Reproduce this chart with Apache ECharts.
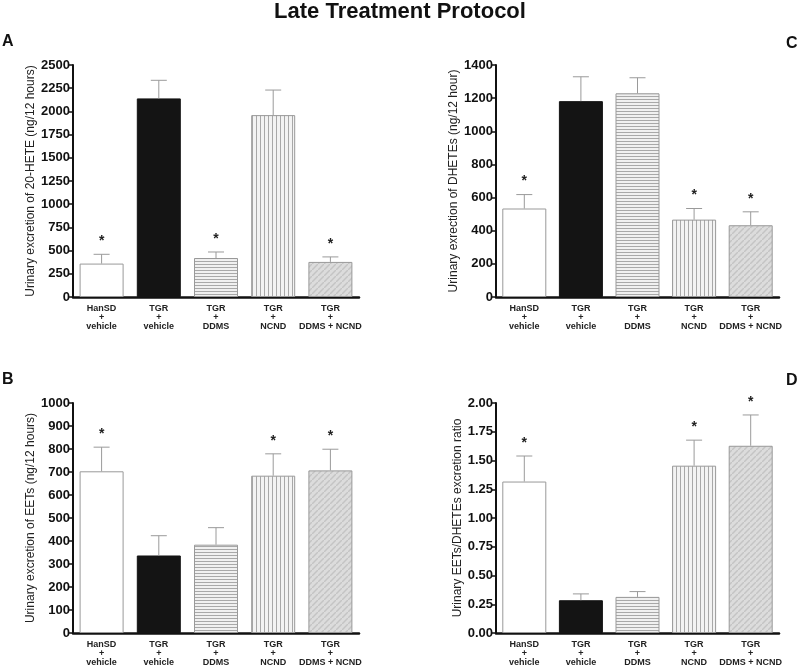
<!DOCTYPE html>
<html>
<head>
<meta charset="utf-8">
<script src="https://cdn.jsdelivr.net/npm/echarts@6/dist/echarts.min.js"></script>
<style>
  html, body { margin: 0; padding: 0; background: #fff; }
  #chart { width: 800px; height: 667px; }
</style>
</head>
<body>
<div id="chart"></div>
<script>
// groups on the x axis (same for all four panels)
const groups = ['HanSD\n+\nvehicle', 'TGR\n+\nvehicle', 'TGR\n+\nDDMS', 'TGR\n+\nNCND', 'TGR\n+\nDDMS + NCND'];

// A: 20-HETE (ng/12 hours)
const heteMean = [360, 2140, 420, 1960, 378];
const heteSem = [100, 195, 65, 270, 54];
const heteSig = [1, 0, 1, 0, 1];

// C: DHETEs (ng/12 hour)
const dheteMean = [534, 1182, 1229, 467, 433];
const dheteSem = [84, 147, 94, 67, 81];
const dheteSig = [1, 0, 0, 1, 1];

// B: EETs (ng/12 hours)
const eetMean = [703, 337, 384, 684, 707];
const eetSem = [105, 86, 74, 95, 92];
const eetSig = [1, 0, 0, 1, 1];

// D: EETs/DHETEs ratio
const ratioMean = [1.317, 0.285, 0.314, 1.455, 1.628];
const ratioSem = [0.222, 0.055, 0.046, 0.222, 0.268];
const ratioSig = [1, 0, 0, 1, 1];

const FONT = '"Liberation Sans", Arial, sans-serif';

// fill patterns for the five groups
function makePattern(w, h, bg, draw) {
    const c = document.createElement('canvas');
    c.width = w; c.height = h;
    const ctx = c.getContext('2d');
    ctx.fillStyle = bg;
    ctx.fillRect(0, 0, w, h);
    draw(ctx);
    return { image: c, repeat: 'repeat' };
}
const fills = [
    '#ffffff',
    '#141414',
    makePattern(1, 3, '#f0f0f0', ctx => { ctx.fillStyle = '#a8a8a8'; ctx.fillRect(0, 0, 1, 1); }),
    makePattern(4, 1, '#f3f3f3', ctx => { ctx.fillStyle = '#a8a8a8'; ctx.fillRect(0, 0, 1, 1); }),
    makePattern(6, 6, '#dcdcdc', ctx => {
        ctx.strokeStyle = '#c4c4c4'; ctx.lineWidth = 1.5;
        ctx.beginPath(); ctx.moveTo(0, 6); ctx.lineTo(6, 0); ctx.stroke();
    })
];

var myChart = echarts.init(document.getElementById('chart'));

function barData(values) {
    return values.map((v, i) => ({
        value: v,
        itemStyle: { color: fills[i], borderColor: i === 1 ? '#141414' : '#999', borderWidth: 1 }
    }));
}
function errData(values, sem, sig) {
    return values.map((v, i) => [i, v, v + sem[i], sig[i]]);
}
function renderErr(params, api) {
    const base = api.coord([api.value(0), api.value(1)]);
    const top = api.coord([api.value(0), api.value(2)]);
    const children = [
        { type: 'line', shape: { x1: base[0], y1: base[1], x2: top[0], y2: top[1] }, style: { stroke: '#9a9a9a', lineWidth: 1 } },
        { type: 'line', shape: { x1: top[0] - 8, y1: top[1], x2: top[0] + 8, y2: top[1] }, style: { stroke: '#9a9a9a', lineWidth: 1 } }
    ];
    if (api.value(3)) {
        children.push({
            type: 'text',
            style: { text: '*', x: top[0], y: top[1] - 13, align: 'center', verticalAlign: 'middle', font: 'bold 14px ' + FONT, fill: '#222' }
        });
    }
    return { type: 'group', children: children };
}

const grids = [
    { left: 73, top: 65, width: 286, height: 232 },
    { left: 496, top: 65, width: 283, height: 232 },
    { left: 73, top: 403, width: 286, height: 232 },
    { left: 496, top: 403, width: 283, height: 231 }
];
const panels = [
    { name: 'Urinary excretion of 20-HETE (ng/12 hours)', max: 2500, interval: 250, mean: heteMean, sem: heteSem, sig: heteSig, dec: 0 },
    { name: 'Urinary exrection of DHETEs (ng/12 hour)', max: 1400, interval: 200, mean: dheteMean, sem: dheteSem, sig: dheteSig, dec: 0 },
    { name: 'Urinary excretion of EETs (ng/12 hours)', max: 1000, interval: 100, mean: eetMean, sem: eetSem, sig: eetSig, dec: 0 },
    { name: 'Urinary EETs/DHETEs excretion ratio', max: 2, interval: 0.25, mean: ratioMean, sem: ratioSem, sig: ratioSig, dec: 2 }
];

const letterStyle = { fontFamily: FONT, fontSize: 16, fontWeight: 'bold', color: '#111' };
const option = {
    animation: false,
    title: [
        { text: 'Late Treatment Protocol', left: 'center', top: 0, padding: [1, 0, 0, 0], textStyle: { fontFamily: FONT, fontSize: 22, fontWeight: 'bold', color: '#111' } },
        { text: 'A', left: 2, top: 34, padding: 0, textStyle: letterStyle },
        { text: 'C', left: 786, top: 36, padding: 0, textStyle: letterStyle },
        { text: 'B', left: 2, top: 372, padding: 0, textStyle: letterStyle },
        { text: 'D', left: 786, top: 373, padding: 0, textStyle: letterStyle }
    ],
    grid: grids,
    xAxis: grids.map((g, i) => ({
        type: 'category',
        gridIndex: i,
        data: groups,
        axisLine: { lineStyle: { color: '#111', width: 2.5 } },
        axisTick: { show: false },
        axisLabel: { interval: 0, fontFamily: FONT, fontSize: 9, fontWeight: 'bold', color: '#222', lineHeight: 9, margin: 7 }
    })),
    yAxis: panels.map((p, i) => ({
        type: 'value',
        gridIndex: i,
        min: 0,
        max: p.max,
        interval: p.interval,
        name: p.name,
        nameLocation: 'middle',
        nameGap: 31,
        nameTextStyle: { fontFamily: FONT, fontSize: 12, color: '#222' },
        splitLine: { show: false },
        axisLine: { show: true, lineStyle: { color: '#111', width: 2 } },
        axisTick: { show: true, length: 4, lineStyle: { color: '#111', width: 1.5 } },
        axisLabel: {
            fontFamily: FONT, fontSize: 13, fontWeight: 'bold', color: '#111', margin: 3,
            formatter: v => v.toFixed(p.dec)
        }
    })),
    series: []
};

panels.forEach((p, i) => {
    option.series.push({
        type: 'bar',
        xAxisIndex: i,
        yAxisIndex: i,
        barWidth: 44,
        data: barData(p.mean)
    });
    option.series.push({
        type: 'custom',
        xAxisIndex: i,
        yAxisIndex: i,
        renderItem: renderErr,
        z: 5,
        data: errData(p.mean, p.sem, p.sig)
    });
});

myChart.setOption(option);
window.addEventListener('resize', () => {
    myChart.resize();
});
</script>
</body>
</html>
